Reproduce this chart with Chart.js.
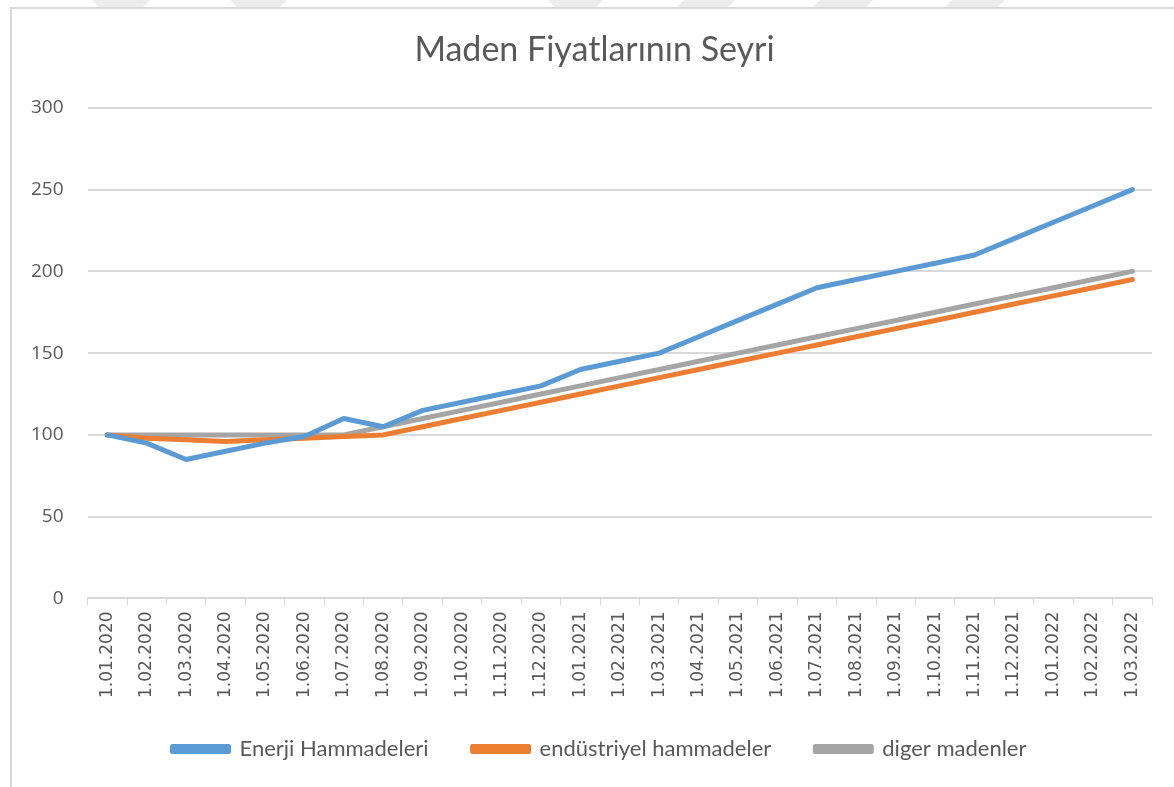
<!DOCTYPE html>
<html>
<head>
<meta charset="utf-8">
<script src="https://cdn.jsdelivr.net/npm/chart.js@4"></script>
<style>
  body { margin: 0; background: #fff; }
  #wrap { position: relative; width: 1174px; height: 787px; overflow: hidden; }
  #frame {
    position: absolute; left: 10px; top: 7px; right: 0; bottom: 0;
    border-left: 2px solid #d9d9d9; border-top: 2px solid #d9d9d9;
    pointer-events: none;
  }
  .mark {
    position: absolute; top: 0; height: 7px; background: #ececec;
    clip-path: polygon(0 0, 100% 0, 88% 100%, 12% 100%);
  }
  .mark.slant { clip-path: polygon(12% 0, 100% 0, 88% 100%, 0 100%); }
</style>
</head>
<body>
<div id="wrap">
  <canvas id="chart" width="1174" height="787"></canvas>
  <div class="mark" style="left:92px;width:58px"></div>
  <div class="mark" style="left:230px;width:57px"></div>
  <div class="mark" style="left:548px;width:55px"></div>
  <div class="mark slant" style="left:677px;width:58px"></div>
  <div class="mark slant" style="left:813px;width:60px"></div>
  <div class="mark slant" style="left:945px;width:60px"></div>
  <div id="frame"></div>
</div>
<script>
const months = [
  "1.01.2020", "1.02.2020", "1.03.2020", "1.04.2020", "1.05.2020", "1.06.2020",
  "1.07.2020", "1.08.2020", "1.09.2020", "1.10.2020", "1.11.2020", "1.12.2020",
  "1.01.2021", "1.02.2021", "1.03.2021", "1.04.2021", "1.05.2021", "1.06.2021",
  "1.07.2021", "1.08.2021", "1.09.2021", "1.10.2021", "1.11.2021", "1.12.2021",
  "1.01.2022", "1.02.2022", "1.03.2022"
];
const enerji = [100, 95, 85, 90, 95, 99, 110, 105, 115, 120, 125, 130, 140, 145, 150,
  160, 170, 180, 190, 195, 200, 205, 210, 220, 230, 240, 250];
const endustriyel = [100, 98, 97, 96, 97, 98, 99, 100, 105, 110, 115, 120, 125, 130, 135,
  140, 145, 150, 155, 160, 165, 170, 175, 180, 185, 190, 195];
const diger = [100, 100, 100, 100, 100, 100, 100, 105, 110, 115, 120, 125, 130, 135, 140,
  145, 150, 155, 160, 165, 170, 175, 180, 185, 190, 195, 200];
const yTicks = [0, 50, 100, 150, 200, 250, 300];

const textColor = "#595959";
const gridColor = "#d9d9d9";

const mkSet = (label, data, color) => ({
  label,
  data,
  borderColor: color,
  backgroundColor: color,
  borderWidth: 5,
  pointRadius: 0,
  tension: 0,
  borderCapStyle: "round",
  borderJoinStyle: "round"
});

// nudge title and legend a little, like the excel layout
const nudge = {
  id: "nudge",
  afterLayout(chart) {
    const t = chart.titleBlock;
    t.left += 15; t.right += 15;
    const l = chart.legend;
    l.left += 20; l.right += 20;
    l.top -= 10; l.bottom -= 10;
  }
};

new Chart(document.getElementById("chart").getContext("2d"), {
  type: "line",
  data: {
    labels: months,
    datasets: [
      mkSet("Enerji Hammadeleri", enerji, "#5b9bd5"),
      mkSet("endüstriyel hammadeler", endustriyel, "#ed7d31"),
      mkSet("diger madenler", diger, "#a5a5a5")
    ]
  },
  plugins: [nudge],
  options: {
    responsive: false,
    animation: false,
    layout: { padding: { left: 7, right: 22, top: 20, bottom: 7 } },
    plugins: {
      title: {
        display: true,
        text: "Maden Fiyatlarının Seyri",
        color: textColor,
        font: { family: "Lato", size: 34, weight: "normal" },
        padding: { top: 10, bottom: 37 }
      },
      legend: {
        position: "bottom",
        labels: {
          color: textColor,
          font: { family: "Lato", size: 22 },
          boxWidth: 56,
          boxHeight: 5,
          padding: 44
        }
      },
      tooltip: { enabled: false }
    },
    scales: {
      x: {
        offset: true,
        grid: {
          offset: true,
          drawOnChartArea: false,
          drawTicks: true,
          tickLength: 7,
          color: gridColor
        },
        border: { color: gridColor, width: 2 },
        ticks: {
          color: textColor,
          font: { family: "DejaVu Sans", size: 17 },
          maxRotation: 90,
          minRotation: 90,
          autoSkip: false,
          padding: 6
        }
      },
      y: {
        min: 0,
        max: 300,
        afterBuildTicks: axis => { axis.ticks = yTicks.map(v => ({ value: v })); },
        grid: { color: gridColor, lineWidth: 2, drawTicks: false },
        border: { display: false },
        ticks: {
          color: textColor,
          font: { family: "Open Sans", size: 19 },
          padding: 24
        }
      }
    }
  }
});
</script>
</body>
</html>
